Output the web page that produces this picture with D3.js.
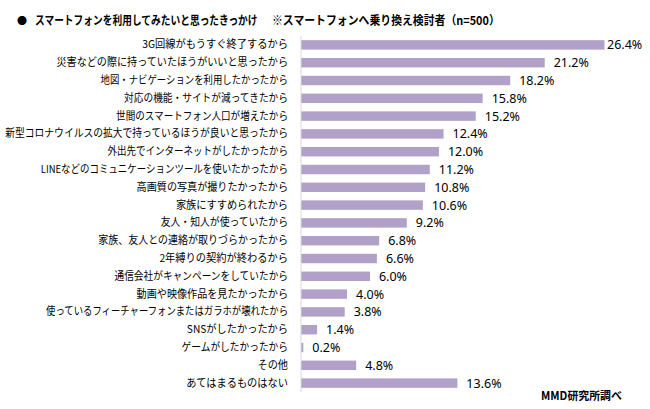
<!DOCTYPE html>
<html><head><meta charset="utf-8">
<script src="https://cdn.jsdelivr.net/npm/d3@7"></script>
<style>body{margin:0;background:#fff}</style>
</head><body>
<script>
const categories = [
  "3G回線がもうすぐ終了するから",
  "災害などの際に持っていたほうがいいと思ったから",
  "地図・ナビゲーションを利用したかったから",
  "対応の機能・サイトが減ってきたから",
  "世間のスマートフォン人口が増えたから",
  "新型コロナウイルスの拡大で持っているほうが良いと思ったから",
  "外出先でインターネットがしたかったから",
  "LINEなどのコミュニケーションツールを使いたかったから",
  "高画質の写真が撮りたかったから",
  "家族にすすめられたから",
  "友人・知人が使っていたから",
  "家族、友人との連絡が取りづらかったから",
  "2年縛りの契約が終わるから",
  "通信会社がキャンペーンをしていたから",
  "動画や映像作品を見たかったから",
  "使っているフィーチャーフォンまたはガラホが壊れたから",
  "SNSがしたかったから",
  "ゲームがしたかったから",
  "その他",
  "あてはまるものはない"
];
const values = [26.4, 21.2, 18.2, 15.8, 15.2, 12.4, 12.0, 11.2, 10.8, 10.6, 9.2, 6.8, 6.6, 6.0, 4.0, 3.8, 1.4, 0.2, 4.8, 13.6];
const titleMain = "スマートフォンを利用してみたいと思ったきっかけ";
const titleSub = "※スマートフォンへ乗り換え検討者（n=500）";
const sourceText = "MMD研究所調べ";

const W = 650, H = 409;
const svg = d3.select("body").append("svg").attr("width", W).attr("height", H);
const jp = "'Noto Sans CJK JP','Noto Sans',sans-serif";

const x = d3.scaleLinear().domain([0, 26.4]).range([301, 604.5]);
const y = d3.scaleBand().domain(categories).range([36, 392]).paddingInner(0.47).paddingOuter(0.235);

// estimate of the narrower reference face, used to fit label widths
function estWidth(s) {
  let w = 0;
  for (const c of s) {
    const code = c.codePointAt(0);
    if ("ァィゥェォャュョッ".includes(c)) w += 7.2;
    else if (code >= 0x30A0 && code <= 0x30FF && c !== "・") w += 8.8;
    else if (c === "・") w += 6.5;
    else if (c === "、") w += 8;
    else if ("ぁぃぅぇぉゃゅょっ".includes(c)) w += 8.8;
    else if (code > 0x2E80) w += 10.2;
    else if (c === "I") w += 3.2;
    else if (/[A-Z]/.test(c)) w += 7;
    else w += 6.3;
  }
  return w;
}

// place a text squeezed horizontally to a target width (anchor start or end)
function squeeze(sel, tx, ty, target) {
  sel.each(function(d) {
    const el = d3.select(this);
    const nat = this.getComputedTextLength();
    const t = typeof target === "function" ? target(d) : target;
    el.attr("x", 0).attr("y", 0)
      .attr("transform", `translate(${tx},${ty}) scale(${t / nat},1)`);
  });
}

// title
svg.append("text").attr("x", 17).attr("y", 25).attr("font-family", jp).attr("font-size", 10)
  .attr("fill", "#000").text("●");
svg.append("text").attr("font-family", jp).attr("font-size", 12)
  .attr("font-weight", "bold").attr("fill", "#000").text(titleMain)
  .call(squeeze, 35, 25, 223);
svg.append("text").attr("font-family", jp).attr("font-size", 12)
  .attr("font-weight", "bold").attr("fill", "#000").text(titleSub)
  .call(squeeze, 272, 25, 228);

// bars
svg.append("g").selectAll("rect").data(values).join("rect")
  .attr("x", x(0)).attr("y", (d, i) => y(categories[i]))
  .attr("width", d => x(d) - x(0)).attr("height", y.bandwidth())
  .attr("fill", "#B1A0C7");

// axis
const axis = svg.append("g").attr("transform", `translate(${x(0)},0)`)
  .call(d3.axisLeft(y).tickSize(0).tickPadding(13));
axis.select(".domain").attr("stroke", "#D9D9D9").attr("d", `M0,36V392`);
axis.selectAll(".tick text").attr("font-family", jp).attr("font-size", 11).attr("fill", "#000")
  .call(squeeze, -13, 0, d => estWidth(d));

// value labels
svg.append("g").selectAll("text").data(values).join("text")
  .attr("x", d => Math.min(x(d) + 9, 607))
  .attr("y", (d, i) => y(categories[i]) + y.bandwidth() / 2)
  .attr("dy", "0.36em")
  .attr("font-family", "'Noto Sans',sans-serif").attr("font-size", 12.5).attr("fill", "#000")
  .text(d => d.toFixed(1) + "%");

svg.append("text").attr("font-family", jp).attr("font-size", 11.5).attr("font-weight", "bold")
  .text(sourceText).call(squeeze, 541, 400, 81);
</script>
</body></html>
